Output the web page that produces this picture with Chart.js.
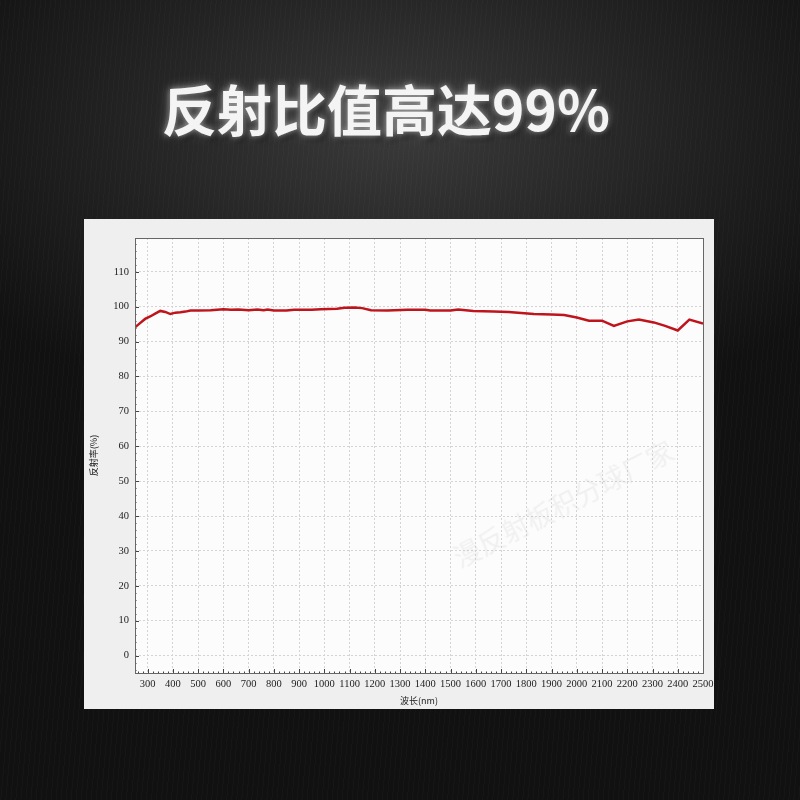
<!DOCTYPE html>
<html>
<head>
<meta charset="utf-8">
<script src="https://cdn.jsdelivr.net/npm/chart.js@4"></script>
<style>
  html, body { margin: 0; padding: 0; }
  body {
    width: 800px; height: 800px; overflow: hidden; position: relative;
    background:
      repeating-linear-gradient(95deg, rgba(255,255,255,0.018) 0 1px, rgba(0,0,0,0) 1px 5px),
      radial-gradient(ellipse 520px 300px at 400px 130px, #3a3a3a 0%, #222 55%, #111 100%);
    background-color: #111;
  }
  #title {
    position: absolute; left: 0; top: 71px; width: 772px; text-align: center;
    font-family: "Noto Sans CJK SC", "Noto Sans", sans-serif; font-weight: bold;
    font-size: 55px; line-height: 72px; color: #f4f4f4;
    text-shadow: 0 0 6px rgba(255,255,255,0.55), 0 0 14px rgba(255,255,255,0.25), 3px 4px 6px rgba(0,0,0,0.8);
  }
  #card {
    position: absolute; left: 84px; top: 219px; width: 630px; height: 490px;
    background: #efefef;
  }
  #card canvas { position: absolute; left: 0; top: 0; }
  #mark {
    position: absolute; left: 563px; top: 503px; transform: translate(-50%, -50%) rotate(-27deg);
    font-family: "Noto Sans CJK SC", sans-serif; font-size: 27px; color: rgba(190,190,190,0.18);
    white-space: nowrap; pointer-events: none;
  }
</style>
</head>
<body>
<div id="title">反射比值高达99%</div>
<div id="card"><canvas id="c" width="630" height="490"></canvas></div>
<div id="mark">漫反射板积分球厂家</div>
<script>
// DATA
const wavelengths = [250, 270, 290, 310, 330, 350, 370, 390, 410, 430, 450, 470, 500, 550, 600, 630, 660, 700, 735, 760, 775, 800,
  850, 880, 950, 985, 1050, 1080, 1120, 1150, 1185, 1250, 1330, 1400, 1420, 1500, 1530, 1560, 1590, 1670, 1730, 1780, 1830,
  1900, 1950, 2000, 2048, 2100, 2147, 2200, 2246, 2305, 2350, 2400, 2446, 2500];
const reflectance = [94.1, 95.3, 96.5, 97.2, 98.0, 98.8, 98.5, 97.9, 98.3, 98.4, 98.6, 98.9, 98.9, 99.0, 99.3, 99.1, 99.2, 99.0, 99.2, 99.0, 99.2, 98.9,
  98.9, 99.1, 99.1, 99.3, 99.4, 99.7, 99.8, 99.6, 99.0, 98.9, 99.1, 99.1, 98.9, 98.9, 99.2, 99.0, 98.8, 98.6, 98.5, 98.2, 97.9,
  97.8, 97.6, 96.9, 96.0, 96.0, 94.5, 95.8, 96.3, 95.5, 94.5, 93.2, 96.3, 95.2];
const xTitle = '波长(nm)';
const yTitle = '反射率(%)';

const points = wavelengths.map((w, i) => ({ x: w, y: reflectance[i] }));

// plot background, frame and small inward ticks
const framePlugin = {
  id: 'frame',
  beforeDraw(chart) {
    const a = chart.chartArea, ctx = chart.ctx;
    ctx.save();
    ctx.fillStyle = '#fcfcfc';
    ctx.fillRect(a.left, a.top, a.right - a.left, a.bottom - a.top);
    ctx.restore();
  },
  afterDatasetsDraw(chart) {
    const a = chart.chartArea, ctx = chart.ctx;
    const xs = chart.scales.x, ys = chart.scales.y;
    ctx.save();
    ctx.strokeStyle = '#444';
    ctx.lineWidth = 1;
    ctx.beginPath();
    for (let v = 260; v <= 2500; v += 20) {
      const px = Math.round(xs.getPixelForValue(v)) + 0.5;
      const len = v % 100 === 0 ? 4 : 1.5;
      ctx.moveTo(px, a.bottom);
      ctx.lineTo(px, a.bottom - len);
    }
    for (let v = -4; v <= 118; v += 2) {
      const py = Math.round(ys.getPixelForValue(v)) + 0.5;
      const len = v % 10 === 0 ? 4 : 1.5;
      ctx.moveTo(a.left, py);
      ctx.lineTo(a.left + len, py);
    }
    ctx.stroke();
    ctx.strokeStyle = '#666';
    ctx.strokeRect(Math.round(a.left) + 0.5, Math.round(a.top) + 0.5, Math.round(a.right - a.left), Math.round(a.bottom - a.top));
    ctx.restore();
  }
};

const tickFont = { family: '"Liberation Serif", serif', size: 10.5 };

new Chart(document.getElementById('c'), {
  type: 'line',
  data: {
    datasets: [{
      data: points,
      borderColor: '#bf141b',
      borderWidth: 2.5,
      pointRadius: 0,
      tension: 0,
      fill: false
    }]
  },
  options: {
    responsive: false,
    animation: false,
    layout: { padding: { top: 19, right: 11, left: 0, bottom: 0 } },
    plugins: { legend: { display: false }, tooltip: { enabled: false } },
    scales: {
      x: {
        type: 'linear', min: 250, max: 2500,
        afterBuildTicks: (s) => { s.ticks = []; for (let v = 300; v <= 2500; v += 100) s.ticks.push({ value: v }); },
        afterFit: (s) => { s.height = 36; s.paddingLeft = 0; s.paddingRight = 0; },
        grid: { color: '#d4d4d4', lineWidth: 1, drawTicks: false },
        border: { display: false, dash: [2, 2] },
        ticks: { color: '#222', font: tickFont, padding: 5, maxRotation: 0, autoSkip: false, callback: (v) => String(v) },
        title: { display: true, text: xTitle, color: '#222', font: { family: '"Noto Sans CJK SC", sans-serif', size: 9 }, padding: { top: 0, bottom: 3 } }
      },
      y: {
        min: -5, max: 119.7,
        afterBuildTicks: (s) => { s.ticks = []; for (let v = 0; v <= 110; v += 10) s.ticks.push({ value: v }); },
        afterFit: (s) => { s.width = 51; s.paddingTop = 0; s.paddingBottom = 0; },
        grid: { color: '#d4d4d4', lineWidth: 1, drawTicks: false },
        border: { display: false, dash: [2, 2] },
        ticks: { color: '#222', font: tickFont, padding: 6, callback: (v) => String(v) },
        title: { display: true, text: yTitle, color: '#222', font: { family: '"Noto Sans CJK SC", sans-serif', size: 9 }, padding: { top: 4, bottom: 0 } }
      }
    }
  },
  plugins: [framePlugin]
});
</script>
</body>
</html>
